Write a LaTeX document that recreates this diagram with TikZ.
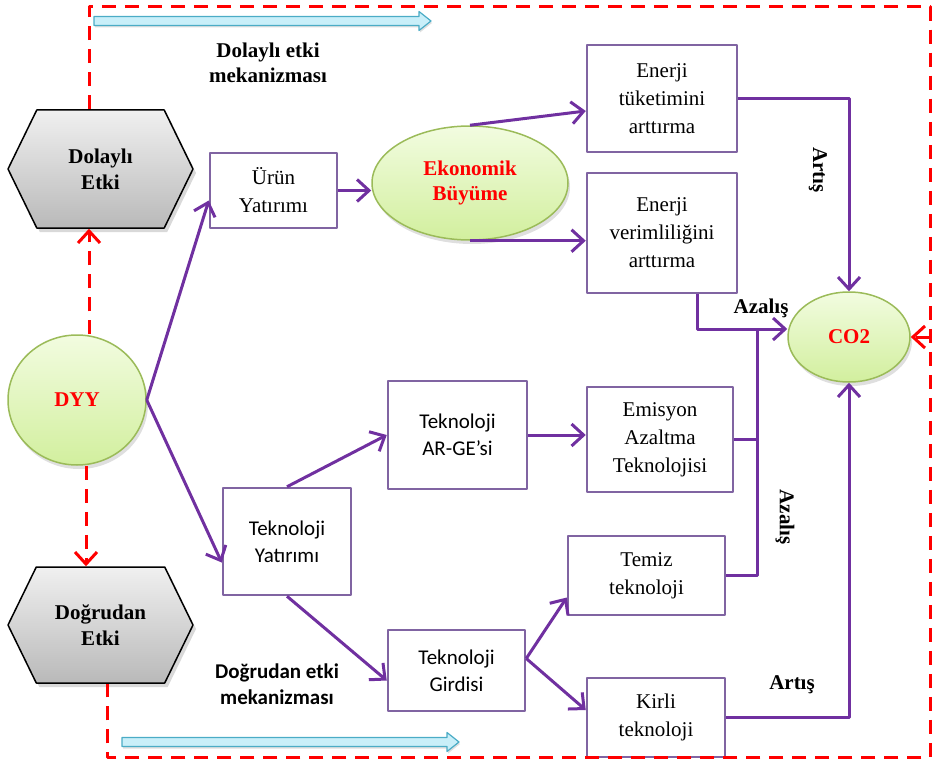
\documentclass[tikz,border=0pt]{standalone}
\usepackage{fontspec}
\setmainfont{Liberation Serif}
\newfontfamily\calibfont{Carlito}
\usetikzlibrary{arrows.meta,shapes.geometric,shapes.symbols,shadows}

\definecolor{flowpurple}{HTML}{7030A0}
\definecolor{boxpurple}{HTML}{8064A2}
\definecolor{bubbleedge}{HTML}{9BBB59}
\definecolor{bubbletop}{HTML}{F2FCE0}
\definecolor{bubblebot}{HTML}{D2EF9E}
\definecolor{hexatop}{HTML}{F0F0F0}
\definecolor{hexabot}{HTML}{B9B9B9}
\definecolor{cyanfill}{HTML}{C9EFF9}
\definecolor{cyanedge}{HTML}{4BACC6}
\definecolor{framered}{HTML}{FF0000}

\tikzset{
  box/.style={draw=boxpurple, line width=2.5pt, fill=white, inner sep=0pt, align=center,
    font=\fontsize{21}{28}\selectfont},
  sansbox/.style={box, font=\calibfont\fontsize{21}{27}\selectfont},
  bubble/.style={ellipse, draw=bubbleedge, line width=1.5pt, top color=bubbletop, bottom color=bubblebot,
    inner sep=0pt, align=center, text=framered, font=\fontsize{21}{25}\selectfont\bfseries,
    drop shadow={opacity=0.25, shadow xshift=2pt, shadow yshift=-4pt}},
  hexa/.style={signal, signal to=east and west, signal pointer angle=128, draw=black, line width=1.5pt,
    top color=hexatop, bottom color=hexabot, inner sep=0pt, align=center,
    font=\fontsize{21}{26}\selectfont\bfseries,
    drop shadow={opacity=0.3, shadow xshift=3pt, shadow yshift=-4pt}},
  flow/.style={->, draw=flowpurple, line width=3pt},
  link/.style={draw=flowpurple, line width=3pt},
  redframe/.style={draw=framered, line width=3pt, dash pattern=on 14pt off 9pt},
  cyanarrow/.style={draw=cyanedge, fill=cyanfill, line width=1.2pt,
    drop shadow={opacity=0.25, shadow xshift=1pt, shadow yshift=-2pt}},
  tag/.style={font=\fontsize{21}{25}\selectfont\bfseries, align=center, inner sep=0pt}
}

% flat block arrow: start point, length
\newcommand{\mecharrow}[2]{%
  \draw[cyanarrow] #1 ++(0,-4.5) -- ++(#2-12,0) -- ++(0,-5) -- ++(12,9.5) -- ++(-12,9.5)
    -- ++(0,-5) -- ++(-#2+12,0) -- cycle;}

\begin{document}
\begin{tikzpicture}[x=1pt, y=-1pt, >={Straight Barb[length=12pt, width=22pt]}, line join=round]

  \useasboundingbox (0,0) rectangle (936,765);

  % corners of the dashed frame
  \coordinate (tl) at (89,7);
  \coordinate (tr) at (930,7);
  \coordinate (br) at (930,757);
  \coordinate (bl) at (107,757);
  \coordinate (dx) at (86,0);

  % left column
  \node[hexa, minimum width=185pt, minimum height=118pt] (dolayli) at (100.5,169) {Dolaylı\\Etki};
  \node[hexa, minimum width=185pt, minimum height=116pt] (dogrudan) at (100.5,625) {Doğrudan\\Etki};
  \node[bubble, minimum width=138pt, minimum height=130pt] (dyy) at (77,400) {DYY};

  % indirect branch
  \node[box, minimum width=127pt, minimum height=75pt] (urun) at (273.5,190.5) {Ürün\\Yatırımı};
  \node[bubble, minimum width=196pt, minimum height=114pt] (ekonomik) at (470,183) {Ekonomik\\Büyüme};
  \node[box, minimum width=150pt, minimum height=107pt] (tuketim) at (662,98.5) {Enerji\\tüketimini\\arttırma};
  \node[box, minimum width=150pt, minimum height=120pt] (verim) at (662,233) {Enerji\\verimliliğini\\arttırma};
  \node[bubble, minimum width=122pt, minimum height=90pt] (co2) at (849,337) {CO2};

  % direct branch
  \node[sansbox, minimum width=128pt, minimum height=107pt] (tekyat) at (287,541.5) {Teknoloji\\Yatırımı};
  \node[sansbox, minimum width=139pt, minimum height=108pt] (arge) at (457.5,435) {Teknoloji\\AR-GE’si};
  \node[box, minimum width=146pt, minimum height=105pt] (emisyon) at (660,439.5) {Emisyon\\Azaltma\\Teknolojisi};
  \node[sansbox, minimum width=137pt, minimum height=81pt] (girdi) at (456.5,670.5) {Teknoloji\\Girdisi};
  \node[box, minimum width=157pt, minimum height=79pt] (temiz) at (646.5,575.5) {Temiz\\teknoloji};
  \node[box, minimum width=138pt, minimum height=79pt] (kirli) at (656,717.5) {Kirli\\teknoloji};

  % mechanism arrows and captions
  \mecharrow{(94,21)}{337}
  \mecharrow{(122,742)}{337}
  \node[tag] (dolaylimek) at (268,63) {Dolaylı etki\\mekanizması};
  \node[tag, font=\calibfont\fontsize{21}{26}\selectfont\bfseries] (dogrudanmek) at (277,684) {Doğrudan etki\\mekanizması};

  % red dashed frame
  \draw[redframe] (dolayli.north -| tl) -- (tl) -- (tr) -- (br) -- (bl) -- (dogrudan.south -| bl);
  \draw[redframe, ->] (dyy.north -| tl) -- (dolayli.south -| tl);
  \draw[redframe, ->] (dyy.south -| dx) -- (dogrudan.north -| dx);
  \draw[redframe, ->] (co2.east -| tr) -- (co2.east);

  % purple connectors
  \draw[flow] (dyy.east) -- ([yshift=-10pt]urun.west);
  \draw[flow] (dyy.east) -- ([yshift=-21pt]tekyat.west);
  \draw[flow] (urun.east) -- (urun.east -| ekonomik.west);
  \draw[flow] (ekonomik.north) -- ([yshift=-12.5pt]tuketim.west);
  \draw[flow] (ekonomik.south) -- (ekonomik.south -| verim.west);
  \draw[flow] (tuketim.east) -| (co2.north);
  \draw[flow] ([xshift=35pt]verim.south) |- ([yshift=8pt]co2.west);
  \coordinate (join) at ([yshift=8pt]co2.west -| 757,0);
  \draw[link] (temiz.east) -| (join);
  \draw[link] (emisyon.east) -- (emisyon.east -| join);
  \draw[flow] (kirli.east) -| (co2.south);

  \draw[flow] (tekyat.north) -- (arge.west);
  \draw[flow] (tekyat.south) -- ([yshift=-10pt]girdi.west);
  \draw[flow] (arge.east) -- (arge.east -| emisyon.west);
  \draw[flow] ([yshift=12pt]girdi.east) -- ([yshift=-22pt]temiz.west);
  \draw[flow] ([yshift=12pt]girdi.east) -- ([yshift=7.5pt]kirli.west);

  % effect labels
  \node[tag, rotate=-90] (artis1) at (818,170) {Artış};
  \node[tag] (azalis1) at (761,308) {Azalış};
  \node[tag, rotate=-90] (azalis2) at (785,517) {Azalış};
  \node[tag] (artis2) at (792,685) {Artış};

\end{tikzpicture}
\end{document}
